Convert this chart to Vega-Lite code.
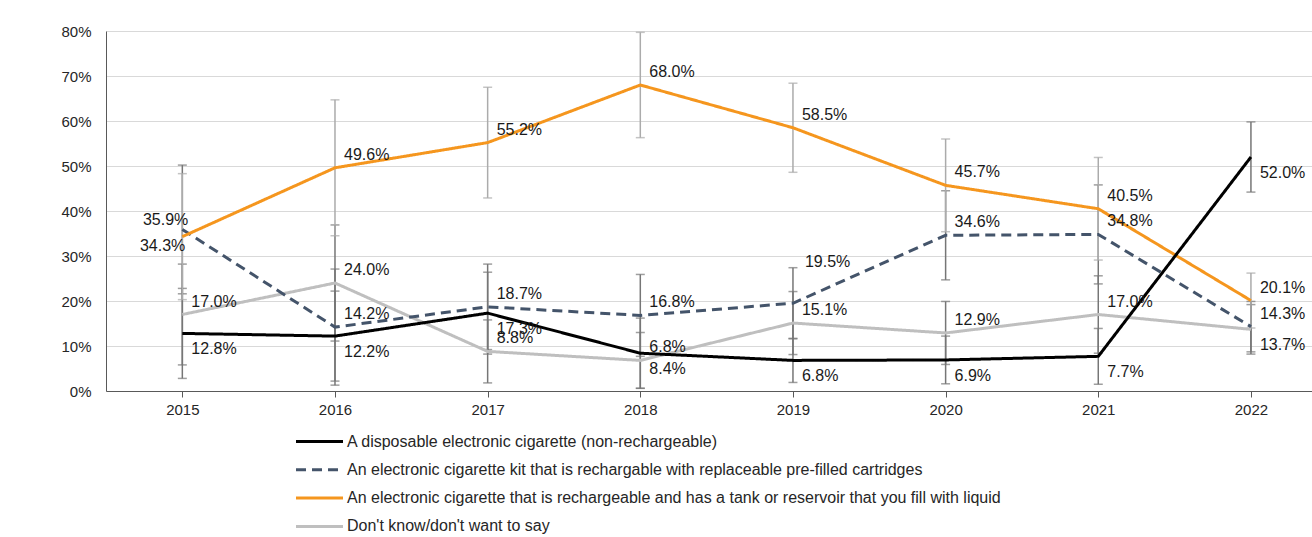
{
  "$schema": "https://vega.github.io/schema/vega-lite/v6.json",
  "width": 1206,
  "height": 360,
  "autosize": {"type": "none"},
  "padding": {"left": 106, "top": 31, "right": 0, "bottom": 146},
  "background": "white",
  "config": {
    "view": {"stroke": null},
    "font": "Liberation Sans",
    "axis": {"labelFont": "Liberation Sans", "labelColor": "#262626", "labelFlush": false, "title": null},
    "legend": {"labelFont": "Liberation Sans", "labelColor": "#262626"}
  },
  "data": {
    "values": [
      {"k": "dk", "s": "Don't know/don't want to say", "year": 2015, "v": 0.170, "lo": 0.058, "hi": 0.282},
      {"k": "dk", "s": "Don't know/don't want to say", "year": 2016, "v": 0.240, "lo": 0.111, "hi": 0.369},
      {"k": "dk", "s": "Don't know/don't want to say", "year": 2017, "v": 0.088, "lo": 0.018, "hi": 0.158},
      {"k": "dk", "s": "Don't know/don't want to say", "year": 2018, "v": 0.068, "lo": 0.006, "hi": 0.130},
      {"k": "dk", "s": "Don't know/don't want to say", "year": 2019, "v": 0.151, "lo": 0.081, "hi": 0.221},
      {"k": "dk", "s": "Don't know/don't want to say", "year": 2020, "v": 0.129, "lo": 0.059, "hi": 0.199},
      {"k": "dk", "s": "Don't know/don't want to say", "year": 2021, "v": 0.170, "lo": 0.084, "hi": 0.256},
      {"k": "dk", "s": "Don't know/don't want to say", "year": 2022, "v": 0.137, "lo": 0.082, "hi": 0.192},
      {"k": "kit", "s": "An electronic cigarette kit that is rechargable with replaceable pre-filled cartridges", "year": 2015, "v": 0.359, "lo": 0.216, "hi": 0.502},
      {"k": "kit", "s": "An electronic cigarette kit that is rechargable with replaceable pre-filled cartridges", "year": 2016, "v": 0.142, "lo": 0.013, "hi": 0.271},
      {"k": "kit", "s": "An electronic cigarette kit that is rechargable with replaceable pre-filled cartridges", "year": 2017, "v": 0.187, "lo": 0.092, "hi": 0.282},
      {"k": "kit", "s": "An electronic cigarette kit that is rechargable with replaceable pre-filled cartridges", "year": 2018, "v": 0.168, "lo": 0.077, "hi": 0.259},
      {"k": "kit", "s": "An electronic cigarette kit that is rechargable with replaceable pre-filled cartridges", "year": 2019, "v": 0.195, "lo": 0.116, "hi": 0.274},
      {"k": "kit", "s": "An electronic cigarette kit that is rechargable with replaceable pre-filled cartridges", "year": 2020, "v": 0.346, "lo": 0.247, "hi": 0.445},
      {"k": "kit", "s": "An electronic cigarette kit that is rechargable with replaceable pre-filled cartridges", "year": 2021, "v": 0.348, "lo": 0.238, "hi": 0.458},
      {"k": "kit", "s": "An electronic cigarette kit that is rechargable with replaceable pre-filled cartridges", "year": 2022, "v": 0.143, "lo": 0.087, "hi": 0.199},
      {"k": "tank", "s": "An electronic cigarette that is rechargeable and has a tank or reservoir that you fill with liquid", "year": 2015, "v": 0.343, "lo": 0.203, "hi": 0.483},
      {"k": "tank", "s": "An electronic cigarette that is rechargeable and has a tank or reservoir that you fill with liquid", "year": 2016, "v": 0.496, "lo": 0.345, "hi": 0.647},
      {"k": "tank", "s": "An electronic cigarette that is rechargeable and has a tank or reservoir that you fill with liquid", "year": 2017, "v": 0.552, "lo": 0.429, "hi": 0.675},
      {"k": "tank", "s": "An electronic cigarette that is rechargeable and has a tank or reservoir that you fill with liquid", "year": 2018, "v": 0.680, "lo": 0.563, "hi": 0.797},
      {"k": "tank", "s": "An electronic cigarette that is rechargeable and has a tank or reservoir that you fill with liquid", "year": 2019, "v": 0.585, "lo": 0.486, "hi": 0.684},
      {"k": "tank", "s": "An electronic cigarette that is rechargeable and has a tank or reservoir that you fill with liquid", "year": 2020, "v": 0.457, "lo": 0.354, "hi": 0.560},
      {"k": "tank", "s": "An electronic cigarette that is rechargeable and has a tank or reservoir that you fill with liquid", "year": 2021, "v": 0.405, "lo": 0.291, "hi": 0.519},
      {"k": "tank", "s": "An electronic cigarette that is rechargeable and has a tank or reservoir that you fill with liquid", "year": 2022, "v": 0.201, "lo": 0.140, "hi": 0.262},
      {"k": "disp", "s": "A disposable electronic cigarette (non-rechargeable)", "year": 2015, "v": 0.128, "lo": 0.028, "hi": 0.228},
      {"k": "disp", "s": "A disposable electronic cigarette (non-rechargeable)", "year": 2016, "v": 0.122, "lo": 0.022, "hi": 0.222},
      {"k": "disp", "s": "A disposable electronic cigarette (non-rechargeable)", "year": 2017, "v": 0.173, "lo": 0.082, "hi": 0.264},
      {"k": "disp", "s": "A disposable electronic cigarette (non-rechargeable)", "year": 2018, "v": 0.084, "lo": 0.006, "hi": 0.162},
      {"k": "disp", "s": "A disposable electronic cigarette (non-rechargeable)", "year": 2019, "v": 0.068, "lo": 0.019, "hi": 0.117},
      {"k": "disp", "s": "A disposable electronic cigarette (non-rechargeable)", "year": 2020, "v": 0.069, "lo": 0.016, "hi": 0.122},
      {"k": "disp", "s": "A disposable electronic cigarette (non-rechargeable)", "year": 2021, "v": 0.077, "lo": 0.015, "hi": 0.139},
      {"k": "disp", "s": "A disposable electronic cigarette (non-rechargeable)", "year": 2022, "v": 0.520, "lo": 0.442, "hi": 0.598}
    ]
  },
  "encoding": {
    "x": {
      "field": "year", "type": "quantitative",
      "scale": {"domain": [2014.5, 2022.4], "nice": false, "zero": false},
      "axis": {"values": [2015, 2016, 2017, 2018, 2019, 2020, 2021, 2022], "format": "d", "grid": false,
               "domainColor": "#595959", "tickColor": "#595959", "tickSize": 6, "labelFontSize": 15, "labelPadding": 5}
    }
  },
  "layer": [
    {
      "transform": [{"filter": "datum.k != 'tank'"}],
      "mark": {"type": "errorbar", "ticks": {"size": 9}, "color": "#767676", "thickness": 1.5},
      "encoding": {
        "y": {"field": "lo", "type": "quantitative", "scale": {"domain": [0, 0.8]},
              "axis": {"values": [0, 0.1, 0.2, 0.3, 0.4, 0.5, 0.6, 0.7, 0.8], "format": ".0%", "ticks": false, "title": null,
                       "domainColor": "#595959", "gridColor": "#d9d9d9", "grid": true, "labelFontSize": 15, "labelPadding": 15}},
        "y2": {"field": "hi"}
      }
    },
    {
      "transform": [{"filter": "datum.k == 'tank'"}],
      "mark": {"type": "errorbar", "ticks": {"size": 9}, "color": "#ababab", "thickness": 1.5},
      "encoding": {
        "y": {"field": "lo", "type": "quantitative",
              "axis": {"values": [0, 0.1, 0.2, 0.3, 0.4, 0.5, 0.6, 0.7, 0.8], "format": ".0%", "ticks": false, "title": null,
                       "domainColor": "#595959", "gridColor": "#d9d9d9", "grid": true, "labelFontSize": 15, "labelPadding": 15}},
        "y2": {"field": "hi"}
      }
    },
    {
      "mark": {"type": "line", "strokeWidth": 3},
      "encoding": {
        "y": {"field": "v", "type": "quantitative",
              "axis": {"values": [0, 0.1, 0.2, 0.3, 0.4, 0.5, 0.6, 0.7, 0.8], "format": ".0%", "ticks": false, "title": null,
                       "domainColor": "#595959", "gridColor": "#d9d9d9", "grid": true, "labelFontSize": 15, "labelPadding": 15}},
        "color": {
          "field": "s", "type": "nominal",
          "scale": {
            "domain": ["A disposable electronic cigarette (non-rechargeable)", "An electronic cigarette kit that is rechargable with replaceable pre-filled cartridges", "An electronic cigarette that is rechargeable and has a tank or reservoir that you fill with liquid", "Don't know/don't want to say"],
            "range": ["#000000", "#44546a", "#f5961e", "#bfbfbf"]
          },
          "legend": {
            "title": null, "orient": "none", "legendX": 200, "legendY": 397, "direction": "vertical",
            "symbolType": "M-2,0H2", "symbolSize": 552, "symbolStrokeWidth": 3, "symbolFillColor": "transparent", "labelOffset": 14,
            "labelFontSize": 16, "rowPadding": 6.3, "labelLimit": 900
          }
        },
        "strokeDash": {
          "field": "s", "type": "nominal",
          "scale": {
            "domain": ["A disposable electronic cigarette (non-rechargeable)", "An electronic cigarette kit that is rechargable with replaceable pre-filled cartridges", "An electronic cigarette that is rechargeable and has a tank or reservoir that you fill with liquid", "Don't know/don't want to say"],
            "range": [[1, 0], [10, 6], [1, 0], [1, 0]]
          },
          "legend": {
            "title": null, "orient": "none", "legendX": 200, "legendY": 397, "direction": "vertical",
            "symbolType": "M-2,0H2", "symbolSize": 552, "symbolStrokeWidth": 3, "symbolFillColor": "transparent", "labelOffset": 14,
            "labelFontSize": 16, "rowPadding": 6.3, "labelLimit": 900
          }
        }
      }
    },
    {
      "transform": [{"filter": "(datum.k == 'tank' && datum.year != 2015) || (datum.k == 'kit' && datum.year != 2015 && datum.year != 2019) || (datum.k == 'dk' && datum.year != 2022)"}],
      "mark": {"type": "text", "align": "left", "baseline": "middle", "dx": 9, "dy": -13, "fontSize": 16, "color": "#1a1a1a"},
      "encoding": {"y": {"field": "v", "type": "quantitative"}, "text": {"field": "v", "format": ".1%"}}
    },
    {
      "transform": [{"filter": "datum.k == 'disp' || (datum.k == 'dk' && datum.year == 2022)"}],
      "mark": {"type": "text", "align": "left", "baseline": "middle", "dx": 9, "dy": 16, "fontSize": 16, "color": "#1a1a1a"},
      "encoding": {"y": {"field": "v", "type": "quantitative"}, "text": {"field": "v", "format": ".1%"}}
    },
    {
      "transform": [{"filter": "datum.k == 'kit' && datum.year == 2019"}],
      "mark": {"type": "text", "align": "left", "baseline": "middle", "dx": 12, "dy": -41, "fontSize": 16, "color": "#1a1a1a"},
      "encoding": {"y": {"field": "v", "type": "quantitative"}, "text": {"field": "v", "format": ".1%"}}
    },
    {
      "transform": [{"filter": "datum.k == 'kit' && datum.year == 2015"}],
      "mark": {"type": "text", "align": "right", "baseline": "middle", "dx": 6, "dy": -9, "fontSize": 16, "color": "#1a1a1a"},
      "encoding": {"y": {"field": "v", "type": "quantitative"}, "text": {"field": "v", "format": ".1%"}}
    },
    {
      "transform": [{"filter": "datum.k == 'tank' && datum.year == 2015"}],
      "mark": {"type": "text", "align": "right", "baseline": "middle", "dx": 3, "dy": 9, "fontSize": 16, "color": "#1a1a1a"},
      "encoding": {"y": {"field": "v", "type": "quantitative"}, "text": {"field": "v", "format": ".1%"}}
    }
  ]
}
